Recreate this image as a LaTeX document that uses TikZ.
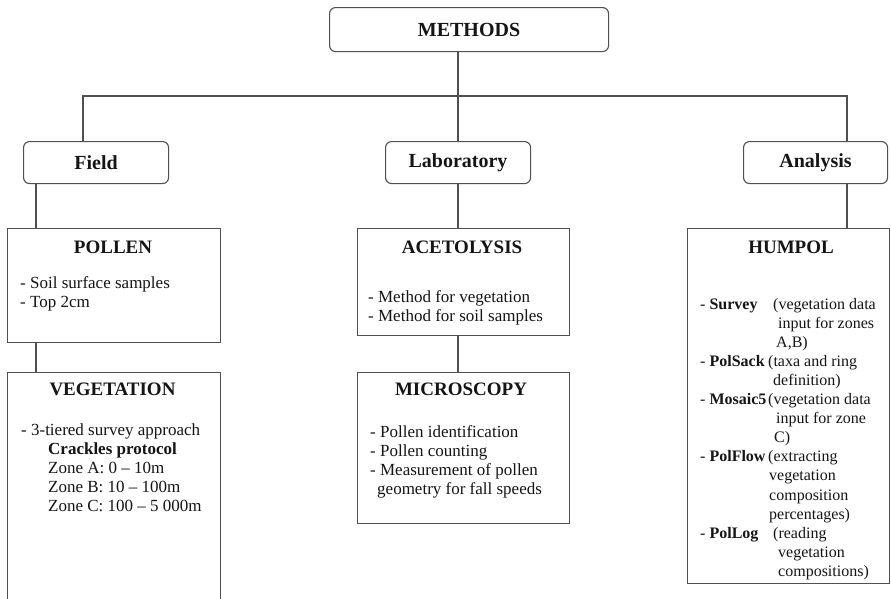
\documentclass[tikz,border=0pt]{standalone}
\usepackage{fontspec}
\setmainfont{Liberation Serif}
\definecolor{linec}{HTML}{505050}
\definecolor{textc}{HTML}{151515}
\newcommand\topfont{\fontsize{20}{22}\selectfont\bfseries}
\newcommand\titlefont{\fontsize{19}{21}\selectfont\bfseries}
\newcommand\bodyfont{\fontsize{17}{19}\selectfont}
\newcommand\humfont{\fontsize{16}{19.1}\selectfont}
\begin{document}
\begin{tikzpicture}[x=1pt,y=-1pt,
  line/.style={draw=linec, line width=1.1pt},
  rbox/.style={line, rounded corners=6pt, anchor=north west, inner sep=0pt,
    text=textc, font=\topfont},
  sbox/.style={line, anchor=north west, inner sep=0pt},
  title/.style={anchor=base, inner sep=0pt, text=textc, font=\titlefont},
  body/.style={anchor=base west, inner sep=0pt, text=textc, font=\bodyfont},
  hbody/.style={anchor=base west, inner sep=0pt, text=textc, font=\humfont}]
\clip (0,0) rectangle (891,598);
\fill[white] (0,0) rectangle (891,598);

% top level
\node[rbox, minimum width=279pt, minimum height=44pt] (methods) at (329,7) {METHODS};
\node[rbox, minimum width=145pt, minimum height=42pt] (field) at (23,141) {Field};
\node[rbox, minimum width=145pt, minimum height=42pt] (lab) at (385,141) {Laboratory};
\node[rbox, minimum width=144pt, minimum height=42pt] (analysis) at (743,141) {Analysis};

% boxes
\node[sbox, minimum width=213pt, minimum height=114pt] (pollen) at (7,228) {};
\node[sbox, minimum width=213pt, minimum height=250pt] (veg) at (7,372) {};
\node[sbox, minimum width=212pt, minimum height=107pt] (aceto) at (357,228) {};
\node[sbox, minimum width=212pt, minimum height=151pt] (micro) at (357,372) {};
\node[sbox, minimum width=202pt, minimum height=355pt] (humpol) at (687,228) {};

% connectors
\coordinate (busL) at (83,96);
\coordinate (busM) at (458,96);
\coordinate (busR) at (847,96);
\coordinate (fx) at (36,0);
\draw[line] (methods.south -| busM) -- (busM);
\draw[line] (field.north -| busL) |- (busR) -- (analysis.north -| busR);
\draw[line] (busM) -- (lab.north -| busM);
\draw[line] (field.south -| fx) -- (pollen.north -| fx);
\draw[line] (pollen.south -| fx) -- (veg.north -| fx);
\draw[line] (lab.south -| busM) -- (aceto.north -| busM);
\draw[line] (aceto.south -| busM) -- (micro.north -| busM);
\draw[line] (analysis.south -| busR) -- (humpol.north -| busR);

% titles
\node[title] (pollent) at (113,253) {POLLEN};
\node[title] (vegt) at (112.5,395) {VEGETATION};
\node[title] (acetot) at (462,253) {ACETOLYSIS};
\node[title] (microt) at (461,395) {MICROSCOPY};
\node[title] (humpolt) at (791,253) {HUMPOL};

% bodies
\node[body] (pollenb) at (20,288) {\begin{tabular}[t]{@{}l@{}}- Soil surface samples\\- Top 2cm\end{tabular}};
\node[body] (vegb) at (21,435) {\begin{tabular}[t]{@{}l@{}}- 3-tiered survey approach\\
\hspace*{27pt}\textbf{Crackles protocol}\\
\hspace*{27pt}Zone A: 0 – 10m\\
\hspace*{27pt}Zone B: 10 – 100m\\
\hspace*{27pt}Zone C: 100 – 5 000m\end{tabular}};
\node[body] (acetob) at (368,302) {\begin{tabular}[t]{@{}l@{}}- Method for vegetation\\- Method for soil samples\end{tabular}};
\node[body] (microb) at (370,437) {\begin{tabular}[t]{@{}l@{}}- Pollen identification\\- Pollen counting\\- Measurement of pollen\\\hspace*{7pt}geometry for fall speeds\end{tabular}};
\node[hbody] (humpolb) at (700,309) {\begin{tabular}[t]{@{}p{68pt}@{}l@{}}
- \textbf{Survey} & \hspace*{5pt}(vegetation data\\
 & \hspace*{10pt}input for zones\\
 & \hspace*{8pt}A,B)\\
- \textbf{PolSack} & (taxa and ring\\
 & \hspace*{5pt}definition)\\
- \textbf{Mosaic5} & (vegetation data\\
 & \hspace*{8pt}input for zone\\
 & \hspace*{6pt}C)\\
- \textbf{PolFlow} & (extracting\\
 & \hspace*{1pt}vegetation\\
 & \hspace*{1pt}composition\\
 & \hspace*{1pt}percentages)\\
- \textbf{PolLog} & \hspace*{5pt}(reading\\
 & \hspace*{10pt}vegetation\\
 & \hspace*{10pt}compositions)
\end{tabular}};
\end{tikzpicture}
\end{document}
